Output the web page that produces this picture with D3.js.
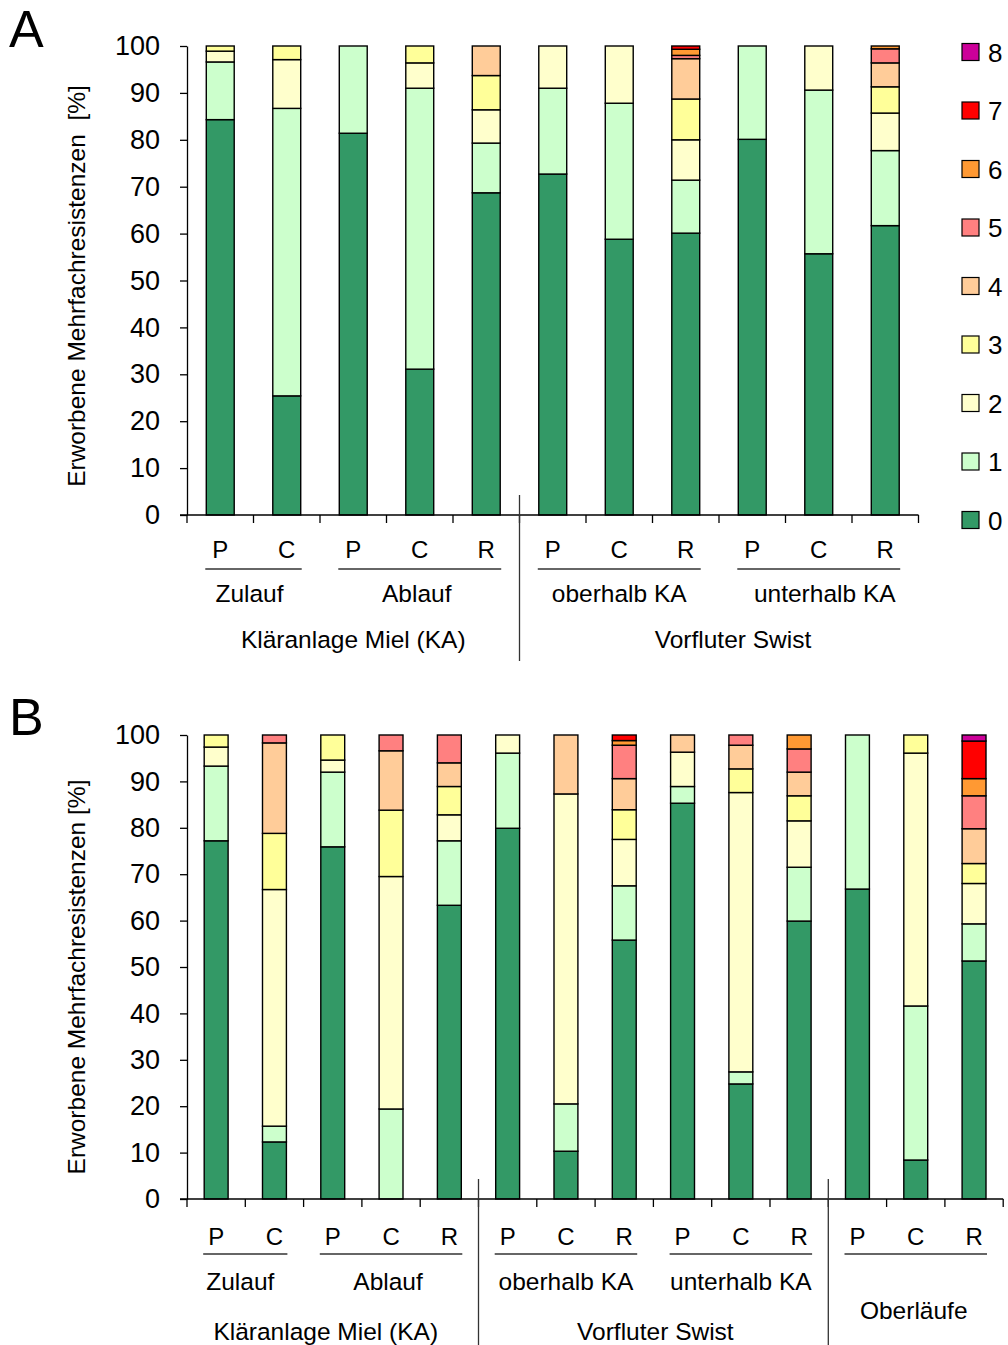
<!DOCTYPE html>
<html>
<head>
<meta charset="utf-8">
<script src="https://cdnjs.cloudflare.com/ajax/libs/d3/7.8.5/d3.min.js"></script>
<style>
  body { margin: 0; background: #fff; }
  svg text { font-family: "Liberation Sans", Arial, sans-serif; fill: #000; }
  .axis path, .axis line { stroke: #000; stroke-width: 1.3px; }
  .axis text { font-size: 27px; }
</style>
</head>
<body>
<svg id="chart" width="1008" height="1345"></svg>
<script>
// resistance classes (number of acquired resistances), bottom to top
var levels = ["0","1","2","3","4","5","6","7","8"];
var levelColors = ["#339966","#CCFFCC","#FFFFCC","#FFFF99","#FFCC99","#FF8080","#FF9933","#FF0000","#CC0099"];
var yTicks = [0,10,20,30,40,50,60,70,80,90,100];

// panel A
var catsA = ["P","C","P","C","R","P","C","R","P","C","R"];
var groupsA = [["Zulauf",0,1],["Ablauf",2,4],["oberhalb KA",5,7],["unterhalb KA",8,10]];
var areasA = [["Kläranlage Miel (KA)",0,4],["Vorfluter Swist",5,10]];
var valuesA = [
    [84.3,12.3,2.3,1.1],
    [25.4,61.3,10.4,2.9],
    [81.4,18.6],
    [31.1,59.9,5.4,3.6],
    [68.7,10.6,7.1,7.3,6.3],
    [72.7,18.3,9.0],
    [58.8,29.0,12.2],
    [60.1,11.3,8.6,8.7,8.6,0.7,1.3,0.7],
    [80.1,19.9],
    [55.7,34.9,9.4],
    [61.7,16.0,8.0,5.6,5.1,3.0,0.6]
];

// panel B
var catsB = ["P","C","P","C","R","P","C","R","P","C","R","P","C","R"];
var groupsB = [["Zulauf",0,1],["Ablauf",2,4],["oberhalb KA",5,7],["unterhalb KA",8,10],["",11,13]];
var areasB = [["Kläranlage Miel (KA)",0,4],["Vorfluter Swist",5,10],["Oberläufe",11,13]];
var valuesB = [
    [77.2,16.1,4.1,2.6],
    [12.3,3.4,51.0,12.1,19.5,1.7],
    [75.9,16.1,2.6,5.4],
    [0,19.4,50.1,14.3,12.8,3.4],
    [63.3,13.9,5.6,6.1,5.1,6.0],
    [79.9,16.2,3.9],
    [10.3,10.2,66.8,0,12.7],
    [55.8,11.7,10.0,6.4,6.7,7.2,1.0,1.2],
    [85.3,3.6,7.4,0,3.7],
    [24.8,2.6,60.2,5.1,5.1,2.2],
    [59.9,11.6,10.0,5.4,5.1,5.0,3.0],
    [66.8,33.2],
    [8.4,33.2,54.5,3.9],
    [51.3,8.0,8.7,4.3,7.5,7.1,3.7,8.1,1.3]
];

var svg = d3.select("#chart");

function drawPanel(opt)
{
    var n = opt.cats.length;
    var x = d3.scaleBand()
        .domain(d3.range(n))
        .range([opt.left, opt.left + opt.step*n])
        .paddingInner(opt.pad)
        .paddingOuter(opt.pad/2);
    var y = d3.scaleLinear()
        .domain([0,100])
        .range([opt.bottom, opt.top]);

    var rows = opt.values.map(function(v,j){
        var r = {idx: j};
        levels.forEach(function(k,i){ r[k] = v[i] || 0; });
        return r;
    });
    var series = d3.stack().keys(levels)(rows);

    var g = svg.append("g");

    g.selectAll(".layer")
      .data(series)
      .enter().append("g")
        .attr("fill", function(d,i){ return levelColors[i]; })
      .selectAll("rect")
      .data(function(d){ return d.filter(function(s){ return s[1]-s[0] > 0; }); })
      .enter().append("rect")
        .attr("x", function(d){ return x(d.data.idx); })
        .attr("y", function(d){ return y(d[1]); })
        .attr("width", x.bandwidth())
        .attr("height", function(d){ return y(d[0]) - y(d[1]); })
        .attr("stroke", "#000")
        .attr("stroke-width", 1.4);

    // y axis
    g.append("g")
        .attr("class","axis")
        .attr("transform","translate(" + opt.left + ",0)")
        .call(d3.axisLeft(y).tickValues(yTicks).tickSize(7).tickPadding(20).tickSizeOuter(0));

    // x axis line with ticks at band boundaries
    var xEnd = opt.left + opt.step*n;
    g.append("line")
        .attr("x1", opt.left - 7).attr("x2", xEnd)
        .attr("y1", opt.bottom).attr("y2", opt.bottom)
        .attr("stroke","#000").attr("stroke-width",1.3);
    g.selectAll(".btick")
      .data(d3.range(n+1))
      .enter().append("line")
        .attr("x1", function(i){ return opt.left + i*opt.step; })
        .attr("x2", function(i){ return opt.left + i*opt.step; })
        .attr("y1", opt.bottom).attr("y2", opt.bottom + 8)
        .attr("stroke","#000").attr("stroke-width",1.3);

    var cx = function(i){ return x(i) + x.bandwidth()/2; };

    // category letters
    g.selectAll(".cat")
      .data(opt.cats)
      .enter().append("text")
        .attr("x", function(d,i){ return cx(i); })
        .attr("y", opt.bottom + opt.catDy)
        .attr("text-anchor","middle")
        .style("font-size","24px")
        .text(function(d){ return d; });

    // group underlines and names
    opt.groups.forEach(function(gr,k){
        g.append("line")
            .attr("x1", x(gr[1]) - 1)
            .attr("x2", x(gr[2]) + x.bandwidth() + 1)
            .attr("y1", opt.bottom + opt.lineDy)
            .attr("y2", opt.bottom + opt.lineDy)
            .attr("stroke","#333").attr("stroke-width",1.3);
        g.append("text")
            .attr("x", (cx(gr[1]) + cx(gr[2]))/2 + opt.groupShift[k])
            .attr("y", opt.bottom + opt.groupDy)
            .attr("text-anchor","middle")
            .style("font-size","24.5px")
            .text(gr[0]);
    });

    opt.areas.forEach(function(a,k){
        g.append("text")
            .attr("x", (cx(a[1]) + cx(a[2]))/2 + opt.areaShift[k])
            .attr("y", opt.bottom + opt.areaDy[k])
            .attr("text-anchor","middle")
            .style("font-size","24.5px")
            .text(a[0]);
    });

    // vertical separators
    opt.seps.forEach(function(s){
        g.append("line")
            .attr("x1", opt.left + s*opt.step).attr("x2", opt.left + s*opt.step)
            .attr("y1", opt.bottom - 20).attr("y2", opt.sepEnd)
            .attr("stroke","#333").attr("stroke-width",1.3);
    });

    // y label
    g.append("text")
        .attr("transform","translate(" + opt.labelX + "," + opt.labelY + ") rotate(-90)")
        .attr("text-anchor","middle")
        .style("font-size","24.5px")
        .style("white-space","pre")
        .text(opt.yLabel);

    // panel letter
    g.append("text")
        .attr("x", 9).attr("y", opt.letterY)
        .style("font-size","52px")
        .text(opt.letter);

    return g;
}

drawPanel({
    cats: catsA, values: valuesA, groups: groupsA, areas: areasA,
    left: 187, step: 66.5, pad: 0.58, top: 46, bottom: 515,
    catDy: 43, lineDy: 54, groupDy: 87, areaDy: [133,133],
    groupShift: [-4,-3,0,6], areaShift: [0,14],
    seps: [5], sepEnd: 661,
    labelX: 85, labelY: 286, yLabel: "Erworbene Mehrfachresistenzen  [%]",
    letter: "A", letterY: 47
});

drawPanel({
    cats: catsB, values: valuesB, groups: groupsB, areas: areasB,
    left: 187, step: 58.3, pad: 0.59, top: 735, bottom: 1199,
    catDy: 46, lineDy: 55, groupDy: 91, areaDy: [141,141,120],
    groupShift: [-5,-3,0,0,0], areaShift: [-7,2,-2],
    seps: [5, 11], sepEnd: 1345,
    labelX: 85, labelY: 977, yLabel: "Erworbene Mehrfachresistenzen [%]",
    letter: "B", letterY: 735
});

// legend (panel A)
var legend = svg.append("g");
var legendItems = levels.slice().reverse();
legend.selectAll("rect")
  .data(legendItems)
  .enter().append("rect")
    .attr("x", 962)
    .attr("y", function(d,i){ return 52 + i*58.5 - 8.5; })
    .attr("width", 17).attr("height", 17)
    .attr("fill", function(d){ return levelColors[+d]; })
    .attr("stroke","#000").attr("stroke-width",1.2);
legend.selectAll("text")
  .data(legendItems)
  .enter().append("text")
    .attr("x", 988)
    .attr("y", function(d,i){ return 52 + i*58.5 + 9.5; })
    .style("font-size","26px")
    .text(function(d){ return d; });
</script>
</body>
</html>
